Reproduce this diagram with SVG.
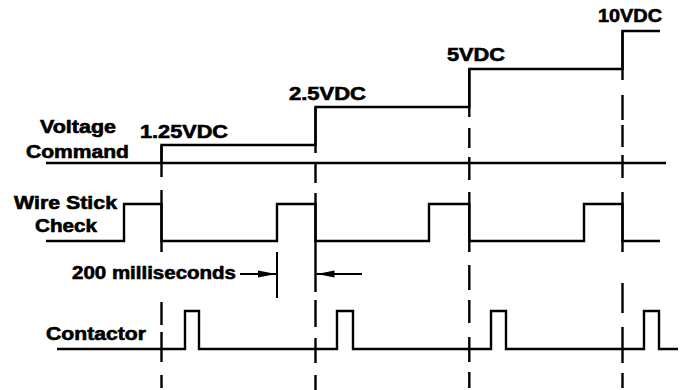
<svg xmlns="http://www.w3.org/2000/svg" width="682" height="390" viewBox="0 0 682 390">
<style>
.sig{fill:none;stroke:#000;stroke-width:2.4;stroke-linejoin:miter;stroke-linecap:butt}
.dash{fill:none;stroke:#000;stroke-width:2.4;stroke-linecap:butt}
.dim{fill:none;stroke:#000;stroke-width:2}
text{font-family:"Liberation Sans",Arial,Helvetica,sans-serif;font-weight:bold;font-size:18px;fill:#000;stroke:#000;stroke-width:0.6}
</style>
<defs>
<marker id="ah" viewBox="0 0 18 8" refX="18" refY="4" markerWidth="18" markerHeight="8" markerUnits="userSpaceOnUse" orient="auto">
<path d="M0,0.5 L18,4 L0,7.5 Z" fill="#000"/>
</marker>
</defs>
<rect width="682" height="390" fill="#fff"/>
<g id="labels">
<text x="40" y="133" textLength="76" lengthAdjust="spacingAndGlyphs">Voltage</text>
<text x="26" y="158" textLength="103" lengthAdjust="spacingAndGlyphs">Command</text>
<text x="14" y="209" textLength="103" lengthAdjust="spacingAndGlyphs">Wire Stick</text>
<text x="35" y="232" textLength="62" lengthAdjust="spacingAndGlyphs">Check</text>
<text x="46" y="340" textLength="100" lengthAdjust="spacingAndGlyphs">Contactor</text>
</g>
<g id="level-labels">
<text x="140" y="138" textLength="88" lengthAdjust="spacingAndGlyphs">1.25VDC</text>
<text x="289" y="100" textLength="77" lengthAdjust="spacingAndGlyphs">2.5VDC</text>
<text x="447" y="61" textLength="58" lengthAdjust="spacingAndGlyphs">5VDC</text>
<text x="598" y="22" textLength="64" lengthAdjust="spacingAndGlyphs">10VDC</text>
</g>
<g id="voltage-command">
<path class="sig" d="M46,163 H666"/>
<path class="sig" d="M161.5,163 V145 H315.5 V107 H469.3 V69 H622.5 V31 H660"/>
</g>
<g id="wire-stick-check">
<path class="sig" d="M46,241 H124 V204 H161.5 V241 H277 V204 H315.5 V241 H429 V204 H469.3 V241 H584 V204 H622.5 V241 H660"/>
</g>
<g id="contactor">
<path class="sig" d="M57,349 H185 V311 H199 V349 H337 V311 H353 V349 H491 V311 H506 V349 H644 V311 H659 V349 H678"/>
</g>
<g id="timing-lines">
<path class="dash" d="M161.5,145 V177 M161.5,190 V252 M161.5,302 V325 M161.5,332 V362 M161.5,375 V388"/>
<path class="dash" d="M315.5,107 V153 M315.5,163 V183 M315.5,193 V292 M315.5,300 V327 M315.5,338 V363 M315.5,375 V390"/>
<path class="dash" d="M469.3,69 V117 M469.3,128 V148 M469.3,157 V180 M469.3,192 V252 M469.3,265 V290 M469.3,300 V323 M469.3,337 V362 M469.3,372 V388"/>
<path class="dash" d="M622.5,31 V80 M622.5,95 V120 M622.5,125 V147 M622.5,155 V178 M622.5,192 V252 M622.5,283 V313 M622.5,327 V363 M622.5,373 V388"/>
</g>
<g id="dimension">
<path class="dim" d="M277,252 V298"/>
<path class="dim" d="M240,274 H276" marker-end="url(#ah)"/>
<path class="dim" d="M362,274 H316.5" marker-end="url(#ah)"/>
<text x="72" y="279" textLength="164" lengthAdjust="spacingAndGlyphs">200 milliseconds</text>
</g>
</svg>
